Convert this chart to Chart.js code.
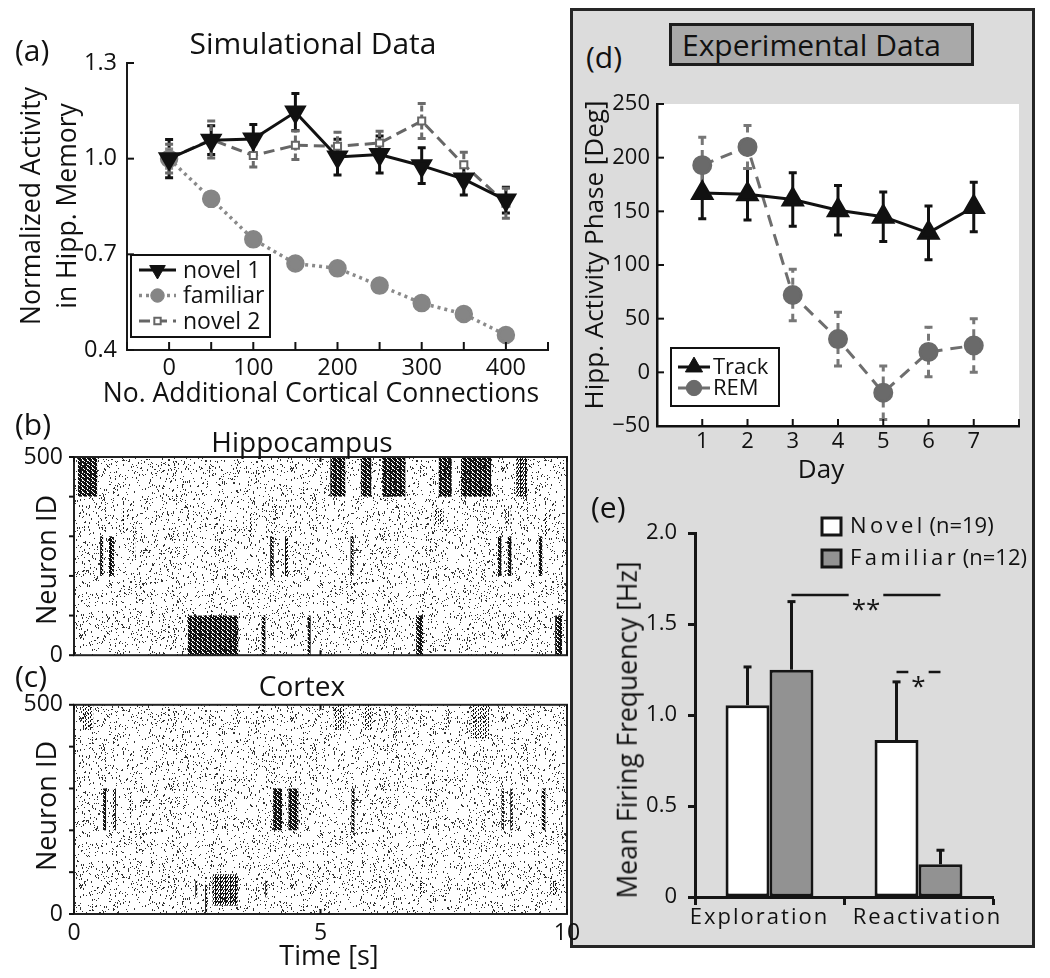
<!DOCTYPE html>
<html>
<head>
<meta charset="utf-8">
<script src="https://cdn.jsdelivr.net/npm/chart.js@4.4.1/dist/chart.umd.min.js"></script>
<style>
  html, body { margin: 0; padding: 0; background: #fff; }
  body { width: 1050px; height: 978px; position: relative; overflow: hidden; font-family: 'Open Sans', sans-serif; color: #111; }
  canvas { position: absolute; }
  .t { position: absolute; white-space: nowrap; line-height: 1; }
  .c { transform: translate(-50%, -50%); }
  .l { transform: translate(0, -50%); }
  .r { transform: translate(-50%, -50%) rotate(-90deg); }
  #frame { position: absolute; left: 570px; top: 8px; width: 465px; height: 940px; box-sizing: border-box; border: 3px solid #262626; background: #dcdcdc; }
  #ebox { position: absolute; left: 669px; top: 23px; width: 305px; height: 43px; box-sizing: border-box; border: 3px solid #1c1c1c; background: #a9a9a9; }
</style>
</head>
<body>
<div id="frame"></div>
<div id="ebox"></div>

<canvas id="chartA" width="565" height="410" style="left:0;top:0"></canvas>
<canvas id="chartB" width="590" height="250" style="left:0;top:430px"></canvas>
<canvas id="chartC" width="590" height="280" style="left:0;top:680px"></canvas>
<canvas id="chartD" width="455" height="400" style="left:575px;top:80px"></canvas>
<canvas id="chartE" width="455" height="460" style="left:575px;top:480px"></canvas>

<!-- texte -->
<div class="t l" style="left:15px;top:50px;font-size:30px">(a)</div>
<div class="t c" style="left:313px;top:43px;font-size:30px">Simulational Data</div>
<div class="t r" style="left:30px;top:206px;font-size:26.5px">Normalized Activity</div>
<div class="t r" style="left:66px;top:206px;font-size:26.5px">in Hipp. Memory</div>
<div class="t c" style="left:321px;top:392px;font-size:26.5px">No. Additional Cortical Connections</div>

<div class="t l" style="left:15px;top:424px;font-size:30px">(b)</div>
<div class="t c" style="left:302px;top:441px;font-size:28px">Hippocampus</div>
<div class="t r" style="left:45px;top:560px;font-size:27px">Neuron ID</div>

<div class="t l" style="left:15px;top:676px;font-size:30px">(c)</div>
<div class="t c" style="left:302px;top:685px;font-size:28px">Cortex</div>
<div class="t r" style="left:45px;top:806px;font-size:27px">Neuron ID</div>
<div class="t c" style="left:329px;top:954px;font-size:27px">Time [s]</div>

<div class="t l" style="left:586px;top:57px;font-size:30px">(d)</div>
<div class="t l" style="left:682px;top:45px;font-size:30px">Experimental Data</div>
<div class="t r" style="left:593px;top:255px;font-size:26px">Hipp. Activity Phase [Deg]</div>
<div class="t c" style="left:821px;top:468px;font-size:26px">Day</div>

<div class="t l" style="left:591px;top:507px;font-size:30px">(e)</div>
<div class="t r" style="left:627px;top:730px;font-size:26.5px">Mean Firing Frequency [Hz]</div>

<script>
// (a) simulation
const connections = [0, 50, 100, 150, 200, 250, 300, 350, 400];
const novel1 = [1.0, 1.058, 1.062, 1.146, 1.005, 1.013, 0.978, 0.936, 0.87];
const novel1Err = [0.06, 0.045, 0.045, 0.058, 0.056, 0.058, 0.056, 0.05, 0.04];
const familiar = [1.0, 0.874, 0.747, 0.671, 0.656, 0.602, 0.547, 0.513, 0.447];
const familiarErr = [0.03, 0.02, 0.02, 0.018, 0.015, 0.015, 0.015, 0.015, 0.015];
const novel2 = [1.0, 1.06, 1.01, 1.042, 1.039, 1.049, 1.118, 0.981, 0.86];
const novel2Err = [0.045, 0.058, 0.036, 0.045, 0.044, 0.037, 0.055, 0.039, 0.047];
const yTicksA = [0.4, 0.7, 1.0, 1.3];

// (b),(c) raster bursts: [t start, t end, neuron low, neuron high, strength]
const hippoBursts = [
  [0.08, 0.47, 400, 500, 1], [0.53, 0.59, 200, 300, 0.9], [0.71, 0.81, 200, 300, 1],
  [0.97, 1.02, 310, 370, 0.4], [1.20, 1.24, 250, 330, 0.4],
  [2.31, 3.33, 0, 100, 1], [3.55, 3.60, 300, 360, 0.3], [3.81, 3.88, 0, 100, 1],
  [3.98, 4.05, 200, 300, 0.9], [4.08, 4.12, 340, 380, 0.3], [4.28, 4.34, 200, 300, 0.7],
  [4.74, 4.80, 0, 100, 0.9], [5.20, 5.50, 400, 500, 1], [5.61, 5.67, 200, 300, 0.9],
  [5.82, 6.03, 400, 500, 1], [6.25, 6.72, 400, 500, 1], [6.94, 7.08, 0, 100, 1],
  [7.30, 7.50, 330, 370, 0.35], [7.40, 7.66, 400, 500, 1], [7.85, 8.46, 400, 500, 1],
  [8.60, 8.67, 200, 300, 1], [8.75, 8.85, 330, 370, 0.35], [8.80, 8.87, 200, 300, 0.9],
  [8.97, 9.19, 400, 500, 0.8], [9.43, 9.50, 200, 300, 0.9], [9.55, 9.60, 300, 360, 0.3],
  [9.76, 9.90, 0, 100, 1]
];
const cortexBursts = [
  [0.17, 0.39, 440, 500, 0.35], [0.59, 0.65, 200, 300, 0.9], [0.79, 0.85, 200, 300, 0.8],
  [1.12, 1.16, 230, 290, 0.4], [2.46, 2.50, 40, 80, 0.6], [2.66, 2.70, 0, 70, 0.6],
  [2.81, 3.32, 20, 95, 0.6], [3.88, 3.92, 40, 80, 0.6], [4.04, 4.22, 200, 300, 1],
  [4.35, 4.55, 200, 300, 1], [4.78, 4.82, 45, 75, 0.5], [5.27, 5.50, 440, 500, 0.4],
  [5.63, 5.69, 195, 300, 0.9], [5.89, 6.03, 440, 500, 0.4], [6.52, 6.56, 420, 500, 0.4],
  [6.74, 6.78, 440, 500, 0.4], [7.02, 7.06, 40, 80, 0.5], [7.55, 7.60, 440, 490, 0.4],
  [8.05, 8.42, 420, 500, 0.35], [8.67, 8.72, 200, 300, 0.9], [8.85, 8.90, 200, 300, 0.8],
  [9.17, 9.21, 450, 500, 0.35], [9.49, 9.56, 200, 300, 0.9], [9.66, 9.80, 45, 80, 0.5]
];

// (d) experiment
const days = [1, 2, 3, 4, 5, 6, 7];
const track = [167, 166, 161, 151, 145, 130, 154];
const trackErr = [24, 24, 25, 23, 23, 25, 23];
const rem = [193, 210, 72, 31, -19, 19, 25];
const remErr = [26, 20, 24, 25, 25, 23, 25];

// (e) firing rates
const phases = ['Exploration', 'Reactivation'];
const novelHz = [1.054, 0.862];
const novelHzErr = [0.21, 0.32];
const familiarHz = [1.249, 0.18];
const familiarHzErr = [0.374, 0.077];
const hzTicks = [0, 0.5, 1.0, 1.5, 2.0];
const sigMarks = [
  { from: [1, 0], to: [1, 1], y: 1.66, text: '**' },
  { from: [0, 1], to: [1, 1], y: 1.236, text: '*' }
];

Chart.defaults.font.family = "'Open Sans', sans-serif";
Chart.defaults.font.size = 22;
Chart.defaults.color = '#111';
Chart.defaults.animation = false;
Chart.defaults.plugins.legend.display = false;
Chart.defaults.plugins.tooltip.enabled = false;

const FONT = "'Open Sans', sans-serif";
const pts = (xs, ys) => xs.map((x, i) => ({ x: x, y: ys[i] }));

// error bars from dataset.errors
function drawErrors(chart, phase) {
  const ctx = chart.ctx, ys = chart.scales.y;
  chart.data.datasets.forEach((ds, i) => {
    if (!ds.errors || (ds.errPhase || 'before') !== phase) return;
    const meta = chart.getDatasetMeta(i);
    ctx.save();
    ctx.strokeStyle = ds.errColor || ds.borderColor;
    ctx.lineWidth = ds.errWidth || 2.5;
    meta.data.forEach((el, j) => {
      const raw = ds.data[j];
      const v = typeof raw === 'object' ? raw.y : raw;
      const e = ds.errors[j];
      const yt = ys.getPixelForValue(v + e);
      const yb = ys.getPixelForValue(ds.errUpOnly ? v : v - e);
      const cw = ds.errCap || 4;
      ctx.setLineDash(ds.errDash || []);
      ctx.beginPath(); ctx.moveTo(el.x, yb); ctx.lineTo(el.x, yt); ctx.stroke();
      ctx.setLineDash([]);
      ctx.beginPath(); ctx.moveTo(el.x - cw, yt); ctx.lineTo(el.x + cw, yt);
      if (!ds.errUpOnly) { ctx.moveTo(el.x - cw, yb); ctx.lineTo(el.x + cw, yb); }
      ctx.stroke();
    });
    ctx.restore();
  });
}
const errorBars = {
  id: 'errorBars',
  beforeDatasetsDraw(chart) { drawErrors(chart, 'before'); },
  afterDatasetsDraw(chart) { drawErrors(chart, 'after'); }
};

// tick marks drawn inward (len > 0) or outward (len < 0)
const tickMarks = {
  id: 'tickMarks',
  afterDraw(chart, args, opts) {
    const ctx = chart.ctx, a = chart.chartArea;
    (opts.items || []).forEach(it => {
      const s = chart.scales[it.axis];
      ctx.save();
      ctx.strokeStyle = it.color || '#111';
      ctx.lineWidth = it.width || 2;
      s.ticks.forEach(t => {
        const p = s.getPixelForValue(t.value);
        ctx.beginPath();
        if (it.axis === 'x') {
          const y0 = it.edge === 'top' ? a.top : a.bottom;
          const dir = it.edge === 'top' ? 1 : -1;
          ctx.moveTo(p, y0); ctx.lineTo(p, y0 + dir * it.len);
        } else {
          const x0 = it.edge === 'right' ? a.right : a.left;
          const dir = it.edge === 'right' ? -1 : 1;
          ctx.moveTo(x0, p); ctx.lineTo(x0 + dir * it.len, p);
        }
        ctx.stroke();
      });
      ctx.restore();
    });
  }
};

// MATLAB-like legend box with line + marker samples
const lineLegend = {
  id: 'lineLegend',
  afterDraw(chart, args, o) {
    if (!o.w) return;
    const ctx = chart.ctx;
    ctx.save();
    ctx.fillStyle = '#fff'; ctx.fillRect(o.x, o.y, o.w, o.h);
    ctx.strokeStyle = '#111'; ctx.lineWidth = 2; ctx.strokeRect(o.x, o.y, o.w, o.h);
    chart.data.datasets.forEach((ds, i) => {
      const cy = o.y + o.top + i * o.step;
      ctx.strokeStyle = ds.borderColor; ctx.lineWidth = ds.borderWidth;
      ctx.setLineDash(ds.borderDash || []);
      ctx.beginPath(); ctx.moveTo(o.x + o.l0, cy); ctx.lineTo(o.x + o.l1, cy); ctx.stroke();
      ctx.setLineDash([]);
      ctx.fillStyle = ds.pointBackgroundColor; ctx.strokeStyle = ds.pointBorderColor;
      ctx.lineWidth = ds.pointBorderWidth || 1;
      Chart.helpers.drawPoint(ctx, { pointStyle: ds.pointStyle, rotation: ds.pointRotation || 0,
        radius: ds.pointRadius * 0.9, borderWidth: ds.pointBorderWidth || 1 }, o.x + (o.l0 + o.l1) / 2, cy);
      ctx.fillStyle = '#111'; ctx.font = o.size + 'px ' + FONT; ctx.textBaseline = 'middle';
      ctx.fillText(ds.label, o.x + o.tx, cy + 1);
    });
    ctx.restore();
  }
};

// texture only: speckle for the background firing, stripes for bursts
function hash(x) {
  x ^= x >>> 16; x = Math.imul(x, 0x7feb352d);
  x ^= x >>> 15; x = Math.imul(x, 0x846ca68b);
  x ^= x >>> 16;
  return (x >>> 0) / 4294967296;
}
function speckle(dens) {
  const c = document.createElement('canvas'); c.width = 211; c.height = 167;
  const g = c.getContext('2d'); g.fillStyle = '#333';
  const n = Math.round(c.width * c.height * dens);
  for (let i = 0; i < n; i++) {
    const px = Math.floor(hash(2 * i + 7919) * c.width);
    const py = Math.floor(hash(2 * i + 7920) * c.height);
    g.fillRect(px, py, 1, i % 3 === 0 ? 2 : 1);
  }
  return c;
}
function stripes(level) {
  const c = document.createElement('canvas'); c.width = 5; c.height = 4;
  const g = c.getContext('2d'); g.fillStyle = '#111';
  if (level >= 0.85) {
    g.fillRect(0, 0, 5, 4);
    g.clearRect(2, 1, 1, 2); g.clearRect(4, 3, 1, 1); g.clearRect(1, 0, 1, 1); g.clearRect(3, 2, 1, 1);
  } else if (level >= 0.55) {
    g.fillRect(0, 0, 1, 4); g.fillRect(1, 1, 1, 2); g.fillRect(2, 0, 1, 2); g.fillRect(3, 2, 1, 2); g.fillRect(4, 1, 1, 1);
  } else {
    g.fillRect(0, 0, 1, 2); g.fillRect(1, 3, 1, 1); g.fillRect(3, 1, 1, 2);
  }
  return c;
}
function rasterPlugin(bursts) {
  return {
    id: 'raster',
    beforeDatasetsDraw(chart) {
      const ctx = chart.ctx, a = chart.chartArea, xs = chart.scales.x, ys = chart.scales.y;
      ctx.save();
      ctx.beginPath(); ctx.rect(a.left, a.top, a.width, a.height); ctx.clip();
      ctx.fillStyle = ctx.createPattern(speckle(0.07), 'repeat');
      ctx.fillRect(a.left, a.top, a.width, a.height);
      bursts.forEach(b => {
        const x0 = xs.getPixelForValue(b[0]), x1 = xs.getPixelForValue(b[1]);
        const y0 = ys.getPixelForValue(b[3]), y1 = ys.getPixelForValue(b[2]);
        ctx.fillStyle = ctx.createPattern(stripes(b[4]), 'repeat');
        ctx.fillRect(x0, y0, Math.max(2, x1 - x0), y1 - y0);
      });
      ctx.restore();
    },
    afterDraw(chart) {
      const ctx = chart.ctx, a = chart.chartArea;
      ctx.save(); ctx.strokeStyle = '#222'; ctx.lineWidth = 2;
      ctx.strokeRect(a.left, a.top, a.width, a.height); ctx.restore();
    }
  };
}

// ---------- (a) ----------
new Chart(document.getElementById('chartA'), {
  type: 'line',
  data: {
    datasets: [
      { label: 'novel 1', data: pts(connections, novel1), errors: novel1Err,
        borderColor: '#111', borderWidth: 3, pointStyle: 'triangle', pointRotation: 180, pointRadius: 10,
        pointBackgroundColor: '#111', pointBorderColor: '#111', errColor: '#111', errWidth: 3 },
      { label: 'familiar', data: pts(connections, familiar), errors: familiarErr,
        borderColor: '#8a8a8a', borderWidth: 3.5, borderDash: [3, 4], pointStyle: 'circle', pointRadius: 7.5,
        pointBackgroundColor: '#858585', pointBorderColor: '#858585', errColor: '#8a8a8a', errWidth: 3 },
      { label: 'novel 2', data: pts(connections, novel2), errors: novel2Err,
        borderColor: '#666', borderWidth: 3, borderDash: [11, 6], pointStyle: 'rect', pointRadius: 5,
        pointBackgroundColor: '#fff', pointBorderColor: '#666', pointBorderWidth: 2,
        errColor: '#6a6a6a', errWidth: 3, errDash: [6, 3] }
    ]
  },
  options: {
    responsive: false,
    layout: { padding: { top: 63, right: 17, left: 0, bottom: 0 }, autoPadding: false },
    scales: {
      x: { type: 'linear', min: -50, max: 450,
        afterFit: s => { s.height = 60; },
        grid: { display: false, drawTicks: false },
        border: { display: true, color: '#1a1a1a', width: 2 },
        ticks: { stepSize: 50, padding: 4, autoSkip: false, maxRotation: 0, font: { size: 23.5 },
          callback: v => (v >= 0 && v <= 400 && v % 100 === 0) ? v : '' } },
      y: { min: 0.4, max: 1.3,
        afterFit: s => { s.width = 127; },
        afterBuildTicks: s => { s.ticks = yTicksA.map(v => ({ value: v })); },
        grid: { display: false, drawTicks: false },
        border: { display: true, color: '#1a1a1a', width: 2 },
        ticks: { padding: 10, font: { size: 23.5 }, callback: v => v.toFixed(1) } }
    },
    plugins: {
      tickMarks: { items: [{ axis: 'x', edge: 'bottom', len: 8 }, { axis: 'y', edge: 'left', len: 7 }] },
      lineLegend: { x: 131, y: 255, w: 139, h: 82, top: 15, step: 25.5, l0: 8, l1: 45, tx: 52, size: 23 }
    }
  },
  plugins: [errorBars, tickMarks, lineLegend]
});

// ---------- (b), (c) ----------
function rasterChart(id, bursts, padTop, xHeight, showTime) {
  return new Chart(document.getElementById(id), {
    type: 'scatter',
    data: { datasets: [{ data: [] }] },
    options: {
      responsive: false,
      layout: { padding: { top: padTop, right: 23, left: 0, bottom: 0 }, autoPadding: false },
      scales: {
        x: { type: 'linear', min: 0, max: 10,
          afterFit: s => { s.height = xHeight; },
          grid: { display: false, drawTicks: false }, border: { display: false },
          ticks: { display: showTime, stepSize: 5, padding: 6, maxRotation: 0, font: { size: 23 } } },
        y: { min: 0, max: 500,
          afterFit: s => { s.width = 74; },
          grid: { display: false, drawTicks: false }, border: { display: false },
          ticks: { stepSize: 100, padding: 11, font: { size: 23 }, callback: v => (v === 0 || v === 500) ? v : '' } }
      },
      plugins: {
        tickMarks: { items: [
          { axis: 'y', edge: 'left', len: -5 },
          { axis: 'x', edge: 'bottom', len: 5 }, { axis: 'x', edge: 'top', len: 5 }
        ] }
      }
    },
    plugins: [rasterPlugin(bursts), tickMarks]
  });
}
rasterChart('chartB', hippoBursts, 27, 18, false);
rasterChart('chartC', cortexBursts, 19, 46, true);

// ---------- (d) ----------
new Chart(document.getElementById('chartD'), {
  type: 'line',
  data: {
    datasets: [
      { label: 'Track', data: pts(days, track), errors: trackErr,
        borderColor: '#111', borderWidth: 3, pointStyle: 'triangle', pointRadius: 11,
        pointBackgroundColor: '#111', pointBorderColor: '#111', errColor: '#111', errWidth: 3 },
      { label: 'REM', data: pts(days, rem), errors: remErr,
        borderColor: '#6e6e6e', borderWidth: 3, borderDash: [12, 8], pointStyle: 'circle', pointRadius: 8.5,
        pointBackgroundColor: '#6a6a6a', pointBorderColor: '#6a6a6a',
        errColor: '#777', errWidth: 3, errDash: [7, 5] }
    ]
  },
  options: {
    responsive: false,
    layout: { padding: { top: 24, right: 11, left: 0, bottom: 0 }, autoPadding: false },
    scales: {
      x: { type: 'linear', min: 0, max: 8,
        afterFit: s => { s.height = 54; },
        grid: { display: false, drawTicks: false },
        border: { display: true, color: '#111', width: 2.5 },
        ticks: { stepSize: 1, padding: 3, autoSkip: false, maxRotation: 0,
          callback: v => (v >= 1 && v <= 7) ? v : '' } },
      y: { min: -50, max: 250,
        afterFit: s => { s.width = 82; },
        grid: { display: false, drawTicks: false },
        border: { display: true, color: '#111', width: 2.5 },
        ticks: { stepSize: 50, padding: 7, callback: v => v < 0 ? '\u2212' + Math.abs(v) : v } }
    },
    plugins: {
      tickMarks: { items: [{ axis: 'x', edge: 'bottom', len: 7 }, { axis: 'y', edge: 'left', len: 7 }] },
      lineLegend: { x: 96, y: 268, w: 108, h: 58, top: 19, step: 21, l0: 7, l1: 39, tx: 42, size: 22 }
    }
  },
  plugins: [{
    id: 'whiteArea',
    beforeDraw(chart) {
      const a = chart.chartArea;
      chart.ctx.save(); chart.ctx.fillStyle = '#fff';
      chart.ctx.fillRect(a.left, a.top, a.width, a.height); chart.ctx.restore();
    }
  }, errorBars, tickMarks, lineLegend]
});

// ---------- (e) ----------
const labelShift = [-10, 9];
new Chart(document.getElementById('chartE'), {
  type: 'bar',
  data: {
    labels: phases,
    datasets: [
      { label: 'Novel (n=19)', data: novelHz, errors: novelHzErr, errUpOnly: true, errPhase: 'after',
        backgroundColor: '#fff', borderColor: '#151515', borderWidth: 3, borderSkipped: false,
        errColor: '#151515', errWidth: 3 },
      { label: 'Familiar (n=12)', data: familiarHz, errors: familiarHzErr, errUpOnly: true, errPhase: 'after',
        backgroundColor: '#929292', borderColor: '#151515', borderWidth: 3, borderSkipped: false,
        errColor: '#151515', errWidth: 3 }
    ]
  },
  options: {
    responsive: false,
    categoryPercentage: 0.59,
    barPercentage: 1.0,
    layout: { padding: { top: 53, right: 37, left: 0, bottom: 0 }, autoPadding: false },
    scales: {
      x: {
        afterFit: s => { s.height = 43; },
        grid: { display: true, offset: true, drawOnChartArea: false, drawTicks: true, tickLength: 8,
          tickColor: '#151515', tickWidth: 3 },
        border: { display: true, color: '#151515', width: 3 },
        ticks: { display: false } },
      y: { min: 0, max: 2,
        afterFit: s => { s.width = 120; },
        afterBuildTicks: s => { s.ticks = hzTicks.map(v => ({ value: v })); },
        grid: { display: true, drawOnChartArea: false, drawTicks: true, tickLength: 7,
          tickColor: '#151515', tickWidth: 3 },
        border: { display: true, color: '#151515', width: 3 },
        ticks: { padding: 11, callback: v => v === 0 ? '0' : v.toFixed(1) } }
    }
  },
  plugins: [errorBars, {
    id: 'sigMarks',
    afterDatasetsDraw(chart) {
      const ctx = chart.ctx, ys = chart.scales.y;
      ctx.save();
      ctx.strokeStyle = '#151515'; ctx.lineWidth = 2.5; ctx.fillStyle = '#151515';
      ctx.font = '26px ' + FONT; ctx.textAlign = 'center'; ctx.textBaseline = 'alphabetic';
      sigMarks.forEach(m => {
        const xa = chart.getDatasetMeta(m.from[0]).data[m.from[1]].x;
        const xb = chart.getDatasetMeta(m.to[0]).data[m.to[1]].x;
        const y = ys.getPixelForValue(m.y);
        const w = ctx.measureText(m.text).width + 6;
        const xm = (xa + xb) / 2;
        ctx.beginPath();
        ctx.moveTo(xa, y); ctx.lineTo(xm - w / 2, y);
        ctx.moveTo(xm + w / 2, y); ctx.lineTo(xb, y);
        ctx.stroke();
        ctx.fillText(m.text, xm, y + 23);
      });
      ctx.restore();
    }
  }, {
    id: 'spacedLabels',
    afterDraw(chart) {
      const ctx = chart.ctx, xs = chart.scales.x, a = chart.chartArea;
      ctx.save();
      ctx.fillStyle = '#111'; ctx.font = '22px ' + FONT;
      ctx.textAlign = 'center'; ctx.textBaseline = 'middle'; ctx.letterSpacing = '2px';
      chart.data.labels.forEach((p, i) => ctx.fillText(p, xs.getPixelForValue(i) + labelShift[i], a.bottom + 21));
      // legend
      ctx.textAlign = 'left'; ctx.lineWidth = 3; ctx.strokeStyle = '#151515';
      chart.data.datasets.forEach((ds, i) => {
        const top = 38 + i * 32;
        ctx.fillStyle = ds.backgroundColor; ctx.fillRect(247, top, 19, 17);
        ctx.strokeRect(247, top, 19, 17);
        const k = ds.label.indexOf(' ');
        ctx.fillStyle = '#111';
        ctx.letterSpacing = '3.4px';
        ctx.fillText(ds.label.slice(0, k), 275, top + 9);
        const w = ctx.measureText(ds.label.slice(0, k)).width;
        ctx.letterSpacing = '0px';
        ctx.fillText(ds.label.slice(k), 275 + w - 2, top + 9);
      });
      ctx.restore();
    }
  }]
});
</script>
</body>
</html>
